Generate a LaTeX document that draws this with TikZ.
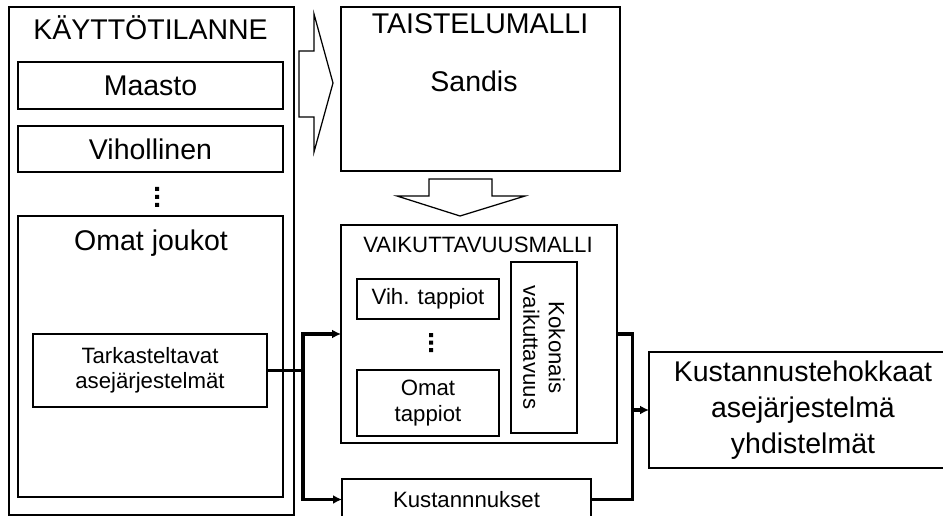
\documentclass[tikz,border=0pt]{standalone}
\usepackage{fontspec}
\setmainfont{Liberation Sans}
\usetikzlibrary{arrows.meta}
\begin{document}
\begin{tikzpicture}[x=1pt,y=-1pt,
  box/.style={draw, line width=1.25pt, inner sep=0pt, outer sep=0pt, align=center},
  big/.style={font=\fontsize{28.5}{36}\selectfont},
  small/.style={font=\fontsize{22.2}{25.5}\selectfont},
  conn/.style={line width=3.1pt},
  arr/.style={conn, -{Latex[length=9pt,width=9pt]}},
  blockarrow/.style={draw, line width=1.25pt, fill=white, line join=miter}]
\useasboundingbox (0,0) rectangle (943,516);
\clip (0,0) rectangle (943,516);
% left column
\node[box, minimum width=285pt, minimum height=508pt] (kt) at (151.5,261) {};
\node[big, anchor=base] (ktt) at (150.5,40) {KÄYTTÖTILANNE};
\node[box, big, minimum width=265pt, minimum height=47pt] (maasto) at (150.5,85.5) {Maasto};
\node[box, big, minimum width=265pt, minimum height=46pt] (vih) at (150.5,149) {Vihollinen};
\node[box, minimum width=265pt, minimum height=281pt] (omat) at (150.5,356.5) {};
\node[big, anchor=base] (omatt) at (151,251) {Omat joukot};
\node[box, small, minimum width=234pt, minimum height=73pt] (tark) at (150,370.5) {Tarkasteltavat\\asejärjestelmät};
\fill (155,187) rectangle (159,191) (155,195) rectangle (159,199) (155,203) rectangle (159,207);
% block arrows
\draw[blockarrow] (299,51) -- (314,51) -- (314,14) -- (333,83) -- (314,152) -- (314,117) -- (299,117) -- cycle;
\draw[blockarrow] (429,179) -- (492,179) -- (492,196) -- (525,196) -- (460,216) -- (397,196) -- (429,196) -- cycle;
% taistelumalli
\node[box, minimum width=279pt, minimum height=164pt] (taist) at (480.5,89) {};
\node[big, anchor=base] (taistt) at (480,34) {TAISTELUMALLI};
\node[big, anchor=base] (sandis) at (474,92) {Sandis};
% vaikuttavuusmalli
\node[box, minimum width=276pt, minimum height=218pt] (vm) at (479,334) {};
\node[small, anchor=base] (vmt) at (478,252) {VAIKUTTAVUUSMALLI};
\node[box, small, minimum width=142pt, minimum height=40pt] (vihtap) at (428,299) {Vih. tappiot};
\node[box, small, minimum width=142pt, minimum height=66pt] (omtap) at (428,403) {Omat\\tappiot};
\node[box, small, rotate=-90, minimum width=171pt, minimum height=66pt] (kok) at (544,347.5) {Kokonais\\vaikuttavuus};
\fill (429,333) rectangle (433,337) (429,340.5) rectangle (433,344.5) (429,348) rectangle (433,352);
% kustannukset
\node[box, small, minimum width=249pt, minimum height=41pt] (kus) at (466.5,499.5) {Kustannnukset};
\node[box, big, minimum width=308pt, minimum height=116pt] (kte) at (803,410) {Kustannustehokkaat\\asejärjestelmä\\yhdistelmät};
% connectors
\coordinate (j1) at (303,370.5);
\coordinate (j2) at (632.5,410);
\draw[conn] (tark.east) -- (j1);
\draw[arr] (j1) |- (vm.west);
\draw[arr] (j1) |- (kus.west);
\draw[conn] (vm.east) -| (j2);
\draw[conn] (kus.east) -| (j2);
\draw[arr] (j2) -- (kte.west);
\end{tikzpicture}
\end{document}
